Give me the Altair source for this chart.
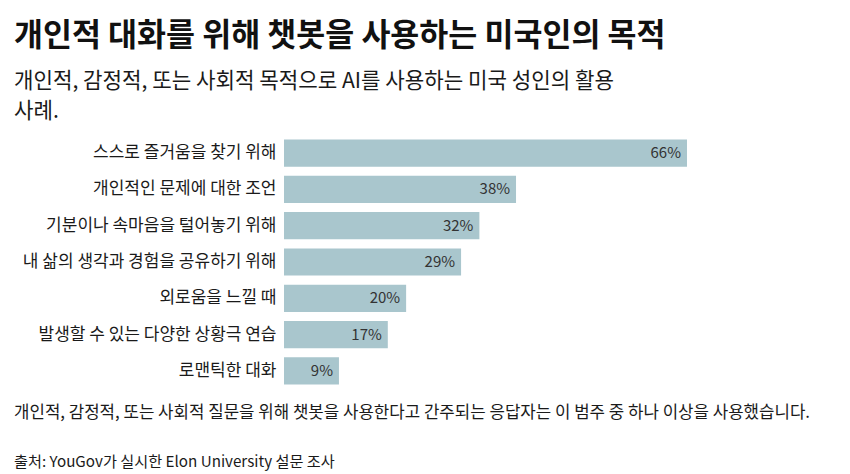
import altair as alt
import pandas as pd

FONT = "Noto Sans CJK KR"

title_text = "개인적 대화를 위해 챗봇을 사용하는 미국인의 목적"
subtitle_lines = ["개인적, 감정적, 또는 사회적 목적으로 AI를 사용하는 미국 성인의 활용", "사례."]
note_text = "개인적, 감정적, 또는 사회적 질문을 위해 챗봇을 사용한다고 간주되는 응답자는 이 범주 중 하나 이상을 사용했습니다."
source_text = "출처: YouGov가 실시한 Elon University 설문 조사"

categories = [
    "스스로 즐거움을 찾기 위해",
    "개인적인 문제에 대한 조언",
    "기분이나 속마음을 털어놓기 위해",
    "내 삶의 생각과 경험을 공유하기 위해",
    "외로움을 느낄 때",
    "발생할 수 있는 다양한 상황극 연습",
    "로맨틱한 대화",
]
values = [66, 38, 32, 29, 20, 17, 9]

df = pd.DataFrame({"category": categories, "value": values})

BAR_COLOR = "#a9c6cd"

y_enc = alt.Y(
    "category:N",
    sort=None,
    title=None,
    scale=alt.Scale(paddingInner=0.25, paddingOuter=0.125),
    axis=alt.Axis(
        labelFont=FONT,
        labelFontSize=17,
        labelColor="#1a1a1a",
        labelPadding=8,
        ticks=False,
        domain=False,
        labelLimit=400,
    ),
)
x_enc = alt.X("value:Q", title=None, axis=None, scale=alt.Scale(domain=[0, 66], nice=False, zero=True))

bars = alt.Chart(df).mark_bar(color=BAR_COLOR).encode(x=x_enc, y=y_enc)

labels = (
    alt.Chart(df)
    .transform_calculate(lab="datum.value + '%'")
    .mark_text(align="right", baseline="middle", dx=-6, font=FONT, fontSize=15, color="#333333")
    .encode(x=x_enc, y=y_enc, text="lab:N")
)

note = (
    alt.Chart(pd.DataFrame({"t": [note_text]}))
    .mark_text(align="left", baseline="alphabetic", font=FONT, fontSize=16.8, color="#1a1a1a")
    .encode(x=alt.value(-270), y=alt.value(283), text="t:N")
)

source = (
    alt.Chart(pd.DataFrame({"t": [source_text]}))
    .mark_text(align="left", baseline="alphabetic", font=FONT, fontSize=15.2, color="#1a1a1a")
    .encode(x=alt.value(-270), y=alt.value(332), text="t:N")
)

chart = (
    alt.layer(bars, labels, note, source)
    .properties(
        width=403,
        height=254,
        background="white",
        padding={"left": 6, "top": 13, "right": 5, "bottom": 2},
        title=alt.TitleParams(
            text=title_text,
            subtitle=subtitle_lines,
            anchor="start",
            frame="bounds",
            font=FONT,
            fontSize=31.5,
            fontWeight="bold",
            color="#111111",
            subtitleFont=FONT,
            subtitleFontSize=21.2,
            subtitleColor="#1a1a1a",
            subtitleLineHeight=30,
            subtitlePadding=18,
            offset=13,
        ),
    )
    .configure_view(strokeWidth=0, stroke=None)
)

chart.save("out.html", embed_options={"renderer": "svg", "actions": False})
